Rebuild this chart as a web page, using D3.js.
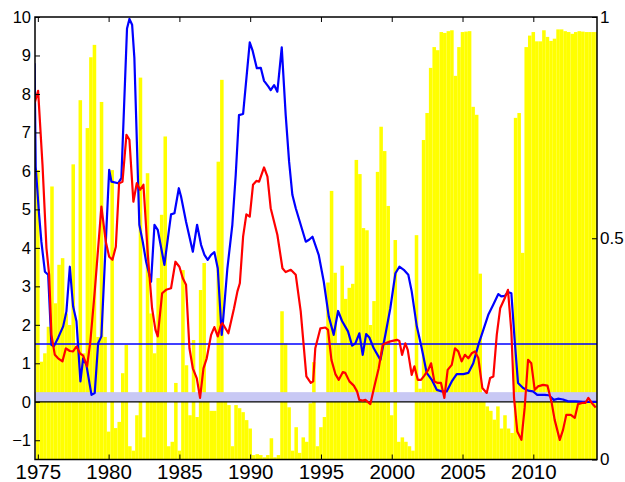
<!DOCTYPE html>
<html>
<head>
<meta charset="utf-8">
<script src="https://cdn.jsdelivr.net/npm/d3@7"></script>
<style>
  html, body { margin: 0; padding: 0; background: #fff; }
  svg text { font-family: "Liberation Sans", Arial, sans-serif; fill: #000; }
</style>
</head>
<body>
<svg id="chart" width="625" height="482"></svg>
<script>
// Quarterly bar values (right axis, 0..1), first bar at 1975 Q1
const barStart = 1975;
const barValues = [
  0.654, 0.221, 0.24, 0.30, 0.617, 0.353, 0.44, 0.455, 0.33, 0.304,
  0.667, 0.25, 0.812, 0.24, 0.749, 0.909, 0.937, 0.277, 0.808, 0.277,
  0.063, 0.654, 0.071, 0.085, 0.195, 0.259, 0.03, 0.02, 0.10, 0.863,
  0.05, 0.647, 0.33, 0.24, 0.41, 0.553, 0.73, 0.03, 0.04, 0.173,
  0.02, 0.428, 0.213, 0.10, 0.27, 0.096, 0.383, 0.444, 0.14, 0.11,
  0.11, 0.673, 0.858, 0.146, 0.123, 0.03, 0.123, 0.116, 0.107, 0.089,
  0.07, 0.01, 0.012, 0.01, 0.005, 0.01, 0.048, 0.005, 0.01, 0.335,
  0.263, 0.118, 0.02, 0.073, 0.015, 0.05, 0.04, 0.127, 0.22, 0.03,
  0.073, 0.096, 0.40, 0.607, 0.422, 0.263, 0.438, 0.363, 0.388, 0.397,
  0.677, 0.645, 0.523, 0.518, 0.304, 0.358, 0.65, 0.752, 0.697, 0.573,
  0.10, 0.496, 0.04, 0.05, 0.04, 0.03, 0.02, 0.507, 0.16, 0.722,
  0.783, 0.885, 0.932, 0.925, 0.966, 0.964, 0.968, 0.97, 0.867, 0.932,
  0.966, 0.967, 0.968, 0.797, 0.779, 0.42, 0.13, 0.12, 0.11, 0.09,
  0.12, 0.07, 0.10, 0.07, 0.06, 0.772, 0.783, 0.467, 0.932, 0.958,
  0.966, 0.945, 0.945, 0.970, 0.955, 0.946, 0.951, 0.972, 0.972, 0.968,
  0.966, 0.962, 0.966, 0.968, 0.967, 0.966, 0.966, 0.966, 0.966
];

// Blue series (left axis): [year, value]
const blueSeries = [
  [1974.77, 8.8], [1974.85, 6.1], [1975.09, 4.86], [1975.25, 4.16], [1975.5, 3.38],
  [1975.73, 3.3], [1975.96, 1.48], [1976.13, 1.44], [1976.43, 1.66], [1976.79, 1.96],
  [1977.02, 2.35], [1977.26, 3.51], [1977.49, 2.48], [1977.73, 2.09], [1978.01, 0.53],
  [1978.2, 1.13], [1978.43, 0.96], [1978.79, 0.18], [1979.02, 0.23], [1979.26, 1.52],
  [1979.49, 1.7], [1980.04, 6.03], [1980.2, 5.72], [1980.67, 5.68], [1980.9, 5.81],
  [1981.3, 9.7], [1981.47, 9.95], [1981.66, 9.8], [1981.82, 8.93], [1982.17, 4.6],
  [1982.41, 4.16], [1982.65, 3.64], [1983.0, 3.12], [1983.24, 4.6], [1983.47, 4.47],
  [1983.94, 3.56], [1984.41, 4.87], [1984.65, 4.9], [1984.96, 5.55], [1985.12, 5.33],
  [1985.47, 4.68], [1985.95, 3.9], [1986.25, 4.6], [1986.53, 4.08], [1986.77, 3.82],
  [1987.0, 3.69], [1987.24, 3.82], [1987.47, 3.89], [1987.71, 3.47], [1987.99, 1.74],
  [1988.04, 1.91], [1988.39, 3.47], [1988.74, 4.6], [1988.98, 5.9], [1989.21, 7.45],
  [1989.5, 7.48], [1989.97, 9.34], [1990.16, 9.14], [1990.47, 8.67], [1990.75, 8.68],
  [1990.98, 8.34], [1991.29, 8.19], [1991.45, 8.1], [1991.69, 8.23], [1991.92, 8.06],
  [1992.23, 9.21], [1992.51, 7.45], [1992.75, 6.24], [1992.98, 5.38], [1993.22, 5.03],
  [1993.57, 4.6], [1993.93, 4.16], [1994.16, 4.21], [1994.4, 4.29], [1994.84, 3.82],
  [1995.2, 3.12], [1995.55, 2.22], [1995.9, 1.74], [1996.21, 2.36], [1996.49, 2.1],
  [1996.91, 1.83], [1997.2, 1.46], [1997.43, 1.52], [1997.71, 1.78], [1997.95, 1.22],
  [1998.19, 1.76], [1998.42, 1.67], [1998.73, 1.39], [1999.2, 1.09], [1999.55, 1.74],
  [1999.9, 2.43], [2000.26, 3.34], [2000.54, 3.51], [2000.85, 3.43], [2001.17, 3.3],
  [2001.41, 2.87], [2001.77, 1.96], [2002.12, 1.39], [2002.47, 0.75], [2002.83, 0.57],
  [2003.18, 0.31], [2003.53, 0.27], [2003.88, 0.27], [2004.24, 0.53], [2004.59, 0.72],
  [2005.06, 0.72], [2005.41, 0.75], [2005.76, 1.0], [2006.12, 1.48], [2006.47, 1.87],
  [2006.82, 2.26], [2007.17, 2.52], [2007.53, 2.8], [2007.74, 2.74], [2007.98, 2.75],
  [2008.21, 2.85], [2008.45, 2.82], [2008.69, 1.57], [2008.92, 0.49], [2009.28, 0.36],
  [2009.63, 0.29], [2009.98, 0.27], [2010.28, 0.18], [2010.8, 0.18], [2011.1, 0.17],
  [2011.45, 0.05], [2011.74, 0.08], [2012.1, 0.06], [2012.46, 0.01], [2013.0, 0.01],
  [2013.5, 0.0], [2014.0, 0.0], [2014.5, 0.0]
];

// Red series (left axis): [year, value]
const redSeries = [
  [1974.77, 7.76], [1975.02, 8.08], [1975.33, 6.16], [1975.61, 3.99], [1975.8, 3.3],
  [1975.96, 1.74], [1976.2, 1.22], [1976.43, 1.13], [1976.74, 1.05], [1976.98, 1.39],
  [1977.26, 1.32], [1977.49, 1.31], [1977.73, 1.44], [1977.97, 1.26], [1978.2, 1.2],
  [1978.48, 0.92], [1978.71, 1.57], [1979.02, 2.87], [1979.26, 3.99], [1979.49, 5.07],
  [1979.8, 4.16], [1980.04, 3.77], [1980.27, 3.69], [1980.51, 4.03], [1980.74, 5.68],
  [1980.98, 5.72], [1981.26, 6.94], [1981.47, 6.81], [1981.75, 5.2], [1981.99, 5.68],
  [1982.22, 5.51], [1982.46, 5.64], [1982.77, 3.82], [1983.07, 2.43], [1983.31, 1.87],
  [1983.47, 1.7], [1983.78, 2.82], [1984.06, 2.91], [1984.41, 2.95], [1984.72, 3.64],
  [1985.0, 3.51], [1985.24, 3.21], [1985.47, 3.04], [1985.71, 1.39], [1985.95, 0.87],
  [1986.23, 0.61], [1986.46, 0.1], [1986.7, 0.87], [1986.93, 1.13], [1987.24, 1.74],
  [1987.47, 1.94], [1987.71, 1.7], [1987.94, 2.0], [1988.04, 2.04], [1988.46, 1.78],
  [1988.86, 2.43], [1989.1, 2.87], [1989.27, 3.08], [1989.5, 4.29], [1989.73, 4.87],
  [1989.97, 4.81], [1990.2, 5.64], [1990.44, 5.74], [1990.63, 5.72], [1990.98, 6.09],
  [1991.22, 5.85], [1991.45, 5.03], [1991.92, 4.34], [1992.28, 3.47], [1992.51, 3.37],
  [1992.87, 3.43], [1993.22, 3.3], [1993.57, 2.35], [1993.97, 0.66], [1994.28, 0.49],
  [1994.45, 0.53], [1994.6, 1.39], [1994.96, 1.91], [1995.31, 1.93], [1995.5, 1.87],
  [1995.74, 1.09], [1996.02, 0.72], [1996.26, 0.57], [1996.54, 0.77], [1996.72, 0.75],
  [1997.01, 0.53], [1997.32, 0.42], [1997.55, 0.27], [1997.71, 0.05], [1997.95, 0.03],
  [1998.14, 0.05], [1998.49, -0.06], [1998.8, 0.44], [1999.08, 0.87], [1999.36, 1.48],
  [1999.55, 1.52], [1999.9, 1.57], [2000.37, 1.61], [2000.54, 1.58], [2000.73, 1.22],
  [2000.96, 1.52], [2001.13, 1.35], [2001.41, 0.7], [2001.6, 0.92], [2001.84, 0.57],
  [2002.07, 0.57], [2002.3, 0.68], [2002.58, 0.83], [2002.78, 1.0], [2003.01, 0.53],
  [2003.25, 0.49], [2003.48, 0.49], [2003.72, 0.1], [2003.95, 0.83], [2004.24, 0.96],
  [2004.47, 1.39], [2004.7, 1.31], [2004.94, 1.05], [2005.17, 1.22], [2005.41, 1.13],
  [2005.65, 1.26], [2005.88, 1.31], [2006.12, 1.13], [2006.4, 0.36], [2006.71, 0.23],
  [2006.95, 0.62], [2007.18, 0.66], [2007.42, 1.74], [2007.66, 2.43], [2007.98, 2.69],
  [2008.21, 2.91], [2008.45, 1.83], [2008.64, 0.1], [2008.87, -0.77], [2009.16, -0.99],
  [2009.39, -0.16], [2009.63, 1.09], [2009.86, 1.0], [2010.1, 0.31], [2010.33, 0.4],
  [2010.69, 0.44], [2011.0, 0.42], [2011.28, 0.01], [2011.51, -0.47], [2011.87, -0.99],
  [2012.1, -0.73], [2012.33, -0.34], [2012.65, -0.34], [2012.93, -0.42], [2013.16, -0.06],
  [2013.45, -0.03], [2013.68, -0.03], [2013.89, 0.1], [2014.13, -0.03], [2014.41, -0.15]
];

// Reference levels on the left axis
const targetLevel = 1.5;
const bandRange = [0, 0.25];

const xTicks = [1975, 1980, 1985, 1990, 1995, 2000, 2005, 2010];
const yLeftTicks = [-1, 0, 1, 2, 3, 4, 5, 6, 7, 8, 9, 10];
const yRightTicks = [0, 0.5, 1];

const svg = d3.select("#chart");
const plotLeft = 35, plotRight = 597, plotTop = 17, plotBottom = 459.5;

const x = d3.scaleLinear().domain([1974.8, 2014.5]).range([plotLeft, plotRight]);
const yL = d3.scaleLinear().domain([-1.5, 10]).range([plotBottom, plotTop]);
const yR = d3.scaleLinear().domain([0, 1]).range([plotBottom, plotTop]);

svg.append("defs").append("clipPath").attr("id", "plotClip")
  .append("rect").attr("x", plotLeft).attr("y", plotTop)
  .attr("width", plotRight - plotLeft).attr("height", plotBottom - plotTop);

const plot = svg.append("g").attr("clip-path", "url(#plotClip)");

// Yellow quarterly bars
const barW = x(barStart + 0.25) - x(barStart);
plot.append("g").selectAll("rect").data(barValues).join("rect")
  .attr("x", (d, i) => x(barStart + 0.25 * i) - barW / 2)
  .attr("width", barW)
  .attr("y", d => yR(d))
  .attr("height", d => yR(0) - yR(d))
  .attr("fill", "#ffff00");

// Shaded band near zero
plot.append("rect")
  .attr("x", plotLeft).attr("width", plotRight - plotLeft)
  .attr("y", yL(bandRange[1]))
  .attr("height", yL(bandRange[0]) - yL(bandRange[1]))
  .attr("fill", "#c8c8f4");

// Zero line
plot.append("line")
  .attr("x1", plotLeft).attr("x2", plotRight)
  .attr("y1", yL(0)).attr("y2", yL(0))
  .attr("stroke", "#000").attr("stroke-width", 1.2);

// Horizontal target line
plot.append("line")
  .attr("x1", plotLeft).attr("x2", plotRight)
  .attr("y1", yL(targetLevel)).attr("y2", yL(targetLevel))
  .attr("stroke", "#0000ff").attr("stroke-width", 1.5);

const line = d3.line().x(d => x(d[0])).y(d => yL(d[1]));

plot.append("path").datum(blueSeries)
  .attr("d", line).attr("fill", "none")
  .attr("stroke", "#0000ff").attr("stroke-width", 2.2)
  .attr("stroke-linejoin", "round");

plot.append("path").datum(redSeries)
  .attr("d", line).attr("fill", "none")
  .attr("stroke", "#ff0000").attr("stroke-width", 2.2)
  .attr("stroke-linejoin", "round");

// Axes: ticks point inward
const gL = svg.append("g").attr("transform", `translate(${plotLeft},0)`)
  .call(d3.axisLeft(yL).tickValues(yLeftTicks).tickSize(-5).tickPadding(4).tickFormat(d3.format("d")));
const gR = svg.append("g").attr("transform", `translate(${plotRight},0)`)
  .call(d3.axisRight(yR).tickValues(yRightTicks).tickSize(-5).tickPadding(3).tickFormat(d => String(d)));
const gB = svg.append("g").attr("transform", `translate(0,${plotBottom})`)
  .call(d3.axisBottom(x).tickValues(xTicks).tickSize(-5).tickPadding(5).tickFormat(d3.format("d")));
const gT = svg.append("g").attr("transform", `translate(0,${plotTop})`)
  .call(d3.axisTop(x).tickValues(xTicks).tickSize(-5).tickFormat(""));

[gL, gR, gB, gT].forEach(g => {
  g.select(".domain").remove();
  g.selectAll(".tick line").attr("stroke", "#000").attr("stroke-width", 1);
  g.selectAll("text")
    .attr("font-family", "'Liberation Sans', Arial, sans-serif").attr("fill", "#000");
});
gL.selectAll("text").attr("font-size", 16.5);
gR.selectAll("text").attr("font-size", 17);
gB.selectAll("text").attr("font-size", 20.5);

// Axes box
svg.append("rect")
  .attr("x", plotLeft).attr("y", plotTop)
  .attr("width", plotRight - plotLeft).attr("height", plotBottom - plotTop)
  .attr("fill", "none").attr("stroke", "#000").attr("stroke-width", 1.5);
</script>
</body>
</html>
